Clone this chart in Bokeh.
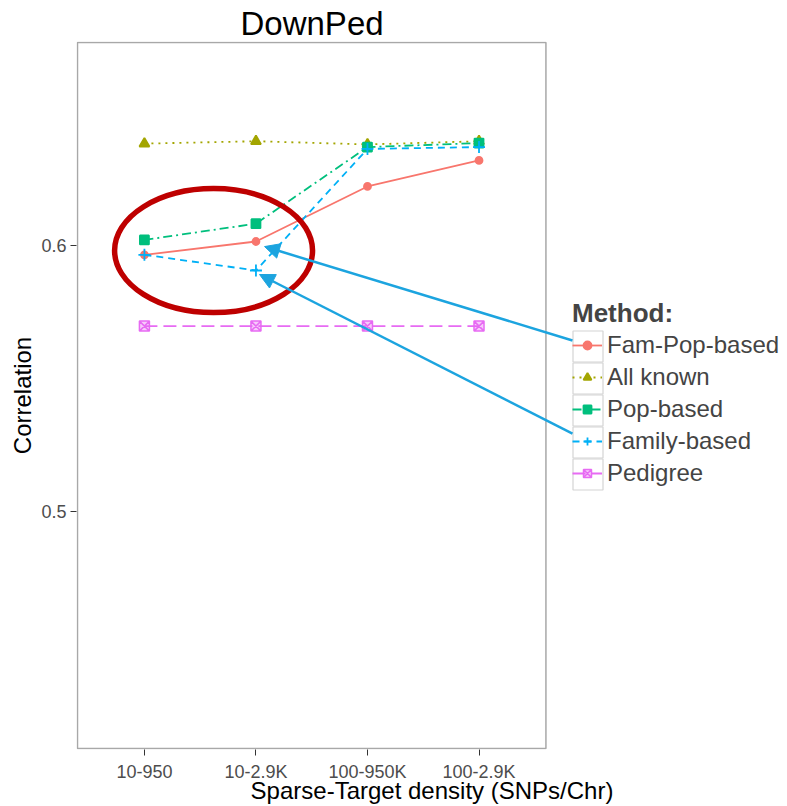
from bokeh.plotting import figure
from bokeh.models import (Range1d, FixedTicker, Legend, LegendItem, Arrow, NormalHead)
from bokeh.embed import file_html
from bokeh.resources import INLINE

# ---- data ----
categories = ["10-950", "10-2.9K", "100-950K", "100-2.9K"]
x_pos = [1, 2, 3, 4]
fam_pop_based = [0.5965, 0.6015, 0.6222, 0.6320]
all_known = [0.6383, 0.6392, 0.6380, 0.6392]
pop_based = [0.6021, 0.6082, 0.6370, 0.6385]
family_based = [0.5965, 0.5906, 0.6363, 0.6370]
pedigree = [0.5697, 0.5697, 0.5697, 0.5697]
y_ticks = [0.5, 0.6]

FONT = "Liberation Sans"

# pixel geometry helpers (frame left=76, bottom=749; 111.53 px per category, 2660 px per unit)
FL, FB = 76, 749
PX_X = 111.53
PX_Y = 2660.0
x0, x1 = 0.391, 0.391 + 711 / PX_X
y0, y1 = 0.5 - 238 / PX_Y, 0.6 + 204 / PX_Y


def dx(px):
    return x0 + (px - FL) / PX_X


def dy(py):
    return y0 + (FB - py) / PX_Y


p = figure(width=787, height=806, output_backend="svg", toolbar_location=None,
           x_range=Range1d(x0, x1), y_range=Range1d(y0, y1),
           min_border_left=FL, min_border_right=0, min_border_top=41, min_border_bottom=806 - FB,
           title="DownPed")
p.outline_line_color = None
p.xgrid.visible = False
p.ygrid.visible = False
p.background_fill_color = "white"

p.title.text_font = FONT
p.title.text_font_size = "33px"
p.title.text_font_style = "normal"
p.title.text_color = "black"
p.title.align = "left"
p.title.offset = 164
p.title.standoff = 0
p.title.text_line_height = 1.0

# panel border
p.quad(left=[0.4], right=[4.6], bottom=[dy(748)], top=[dy(42)],
       fill_color=None, line_color="#A8A8A8", line_width=1.5)

# axes
p.xaxis.ticker = FixedTicker(ticks=x_pos)
p.xaxis.major_label_overrides = {x: c for x, c in zip(x_pos, categories)}
p.yaxis.ticker = FixedTicker(ticks=y_ticks)
for ax in (p.xaxis[0], p.yaxis[0]):
    ax.axis_line_color = None
    ax.major_tick_line_color = "#333333"
    ax.major_tick_out = 6
    ax.major_tick_in = 0
    ax.minor_tick_line_color = None
    ax.major_label_text_font = FONT
    ax.major_label_text_font_size = "18px"
    ax.major_label_text_color = "#4D4D4D"
    ax.axis_label_text_font = FONT
    ax.axis_label_text_font_size = "24px"
    ax.axis_label_text_font_style = "normal"
    ax.axis_label_text_color = "black"
p.xaxis.axis_label = "Sparse-Target density (SNPs/Chr)"
p.yaxis.axis_label = "Correlation"
p.xaxis.major_label_standoff = 6
p.xaxis.axis_label_standoff = -8
p.yaxis.major_label_standoff = 4
p.yaxis.axis_label_standoff = 2

series = [
    ("Fam-Pop-based", fam_pop_based, "#F8766D", "solid", "circle", 7),
    ("All known", all_known, "#A3A500", "2 5", "triangle", 10),
    ("Pop-based", pop_based, "#00BF7D", "9 4 2 4", "square", 9),
    ("Family-based", family_based, "#00B0F6", "7 5", "cross", 12),
    ("Pedigree", pedigree, "#E76BF3", "13 6", "square_x", 10),
]

# legend key boxes (ggplot style)
key_y = [346, 378, 410, 442, 474]
p.rect(x=[dx(587.5)] * 5, y=[dy(v) for v in key_y], width=30, height=31,
       width_units="screen", height_units="screen",
       fill_color="white", line_color="#D4D4D4", line_width=1.2)

items = []
for name, ys, col, dash, marker, size in series:
    r1 = p.line(x_pos, ys, line_color=col, line_width=1.8, line_dash=dash)
    if marker == "square_x":
        r2 = p.scatter(x_pos, ys, marker=marker, size=size, fill_color=col,
                       fill_alpha=0.35, line_color=col, line_width=1.5)
    else:
        r2 = p.scatter(x_pos, ys, marker=marker, size=size, fill_color=col,
                       line_color=col, line_width=1.8)
    items.append(LegendItem(label=name, renderers=[r1, r2]))

legend = Legend(items=items, location=(496, 262), title="Method:")
legend.title_text_font = FONT
legend.title_text_font_size = "26px"
legend.title_text_font_style = "bold"
legend.label_text_font = FONT
legend.label_text_font_size = "24px"
legend.label_height = 20
legend.glyph_height = 20
legend.glyph_width = 30
legend.label_standoff = 5
legend.spacing = 4
legend.padding = 0
legend.margin = 0
legend.border_line_color = None
legend.background_fill_alpha = 0
legend.title_standoff = 2
p.add_layout(legend)

# annotations: ellipse + arrows
p.ellipse(x=[1.62], y=[0.5981], width=[1.775], height=[0.0466],
          fill_color=None, line_color="#BE0000", line_width=5.5)
ARROW_COL = "#1CA4DF"
for xs, ys, xe, ye in [(4.838, 0.5643, 2.077, 0.5996), (4.838, 0.5293, 2.032, 0.5891)]:
    p.add_layout(Arrow(end=NormalHead(size=15, fill_color=ARROW_COL, line_color=ARROW_COL),
                       x_start=xs, y_start=ys, x_end=xe, y_end=ye,
                       line_color=ARROW_COL, line_width=2.5))

open("out.html", "w").write(file_html(p, INLINE))
